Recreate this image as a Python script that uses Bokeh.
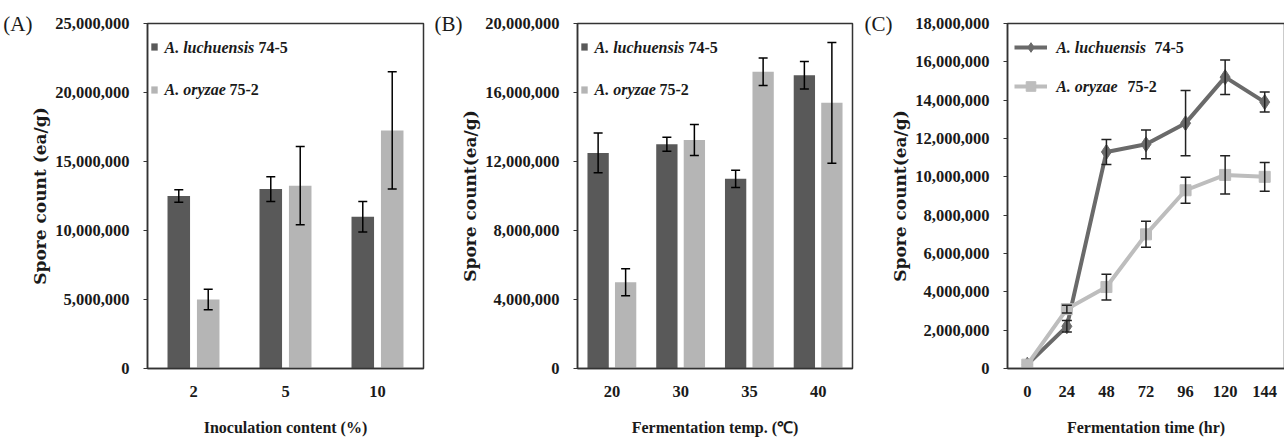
from bokeh.plotting import figure
from bokeh.models import (ColumnDataSource, FactorRange, Range1d, Whisker, TeeHead,
                          NumeralTickFormatter, FixedTicker, Label, Legend, LegendItem,
                          LinearAxis)
from bokeh.transform import dodge
from bokeh.layouts import row
from bokeh.embed import file_html
from bokeh.resources import INLINE

NAN = float("nan")

# ---------------- data ----------------
series_names = ["A. luchuensis", "A. oryzae"]
series_codes = ["74-5", "75-2"]

inoc_levels = ["2", "5", "10"]
inoc_luch = [12.5e6, 13.0e6, 11.0e6]
inoc_luch_err = [0.45e6, 0.9e6, 1.1e6]
inoc_ory = [5.0e6, 13.25e6, 17.25e6]
inoc_ory_err = [0.75e6, 2.83e6, 4.25e6]

temp_levels = ["20", "30", "35", "40"]
temp_luch = [12.5e6, 13.0e6, 11.0e6, 17.0e6]
temp_luch_err = [1.15e6, 0.4e6, 0.5e6, 0.8e6]
temp_ory = [5.0e6, 13.25e6, 17.2e6, 15.4e6]
temp_ory_err = [0.78e6, 0.9e6, 0.8e6, 3.5e6]

time_hr = ["0", "24", "48", "72", "96", "120", "144"]
time_luch = [0.2e6, 2.2e6, 11.3e6, 11.7e6, 12.8e6, 15.2e6, 13.9e6]
time_luch_err = [NAN, 0.3e6, 0.65e6, 0.75e6, 1.7e6, 0.9e6, 0.52e6]
time_ory = [0.2e6, 3.1e6, 4.25e6, 7.0e6, 9.3e6, 10.1e6, 10.0e6]
time_ory_err = [NAN, 0.2e6, 0.67e6, 0.68e6, 0.68e6, 1.0e6, 0.75e6]

# ---------------- style ----------------
DARK = "#595959"
LIGHT = "#b5b5b5"
DARKLINE = "#6a6a6a"
LIGHTLINE = "#bdbdbd"
TXT = "#1a1a1a"
SERIF = "Liberation Serif"
FRAME_H = 345


def make_fig(factors, ymax, ystep, xlabel, ylabel, left, fw, right, tag):
    p = figure(x_range=FactorRange(factors=factors, range_padding=0),
               y_range=Range1d(0, ymax),
               frame_width=fw, frame_height=FRAME_H,
               min_border_left=left, min_border_right=right,
               min_border_top=23, min_border_bottom=75,
               output_backend="svg", toolbar_location=None, tools="")
    p.xgrid.visible = False
    p.ygrid.visible = False
    p.outline_line_color = "#333333"
    p.outline_line_width = 1.5
    p.background_fill_color = "white"
    p.border_fill_color = "white"

    p.yaxis.ticker = FixedTicker(ticks=list(range(0, int(ymax) + 1, int(ystep))))
    p.yaxis.formatter = NumeralTickFormatter(format="0,0")
    p.yaxis.major_tick_in = 0
    p.yaxis.major_tick_out = 4
    p.yaxis.minor_tick_out = 0
    p.yaxis.minor_tick_in = 0
    p.yaxis.major_label_standoff = 14
    p.xaxis.major_tick_in = 0
    p.xaxis.major_tick_out = 0
    p.xaxis.major_label_standoff = 17
    for ax in (p.xaxis, p.yaxis):
        ax.axis_line_color = "#333333"
        ax.axis_line_width = 1.5
        ax.major_tick_line_color = "#333333"
        ax.major_label_text_font = SERIF
        ax.major_label_text_font_style = "bold"
        ax.major_label_text_font_size = "16.5px"
        ax.major_label_text_color = TXT
        ax.axis_label_text_font_style = "bold"
        ax.axis_label_text_color = TXT
    p.xaxis.axis_label = xlabel
    p.xaxis.axis_label_text_font = SERIF
    p.xaxis.axis_label_text_font_size = "16px"
    p.xaxis.axis_label_standoff = 19
    p.yaxis.axis_label = ylabel
    p.yaxis.axis_label_text_font = "DejaVu Serif"
    p.yaxis.axis_label_text_font_size = "17px"
    p.yaxis.axis_label_standoff = 2

    # panel tag "(A)" etc. drawn as the single tick label of an outer left axis
    p.extra_y_ranges = {"tag": Range1d(0, ymax)}
    tag_ax = LinearAxis(y_range_name="tag", ticker=FixedTicker(ticks=[int(ymax)]),
                        major_label_overrides={int(ymax): tag},
                        axis_line_color=None, major_tick_line_color=None,
                        minor_tick_line_color=None, major_tick_out=0, major_tick_in=0,
                        minor_tick_out=0, minor_tick_in=0,
                        major_label_standoff=-5, major_label_text_font=SERIF,
                        major_label_text_font_size="21px", major_label_text_color=TXT)
    p.add_layout(tag_ax, "left")
    return p


def legend_texts(p, fw, n, ymax, x_name, x_code1, x_code2, cy1, cy2):
    # pixel offsets (from frame left / canvas top) converted to data coordinates
    def fx(px):
        return px / fw * n

    def fy(cy):
        return (23 + FRAME_H - cy) / FRAME_H * ymax

    for (cy, name, code, xc) in ((cy1, series_names[0], series_codes[0], x_code1),
                                 (cy2, series_names[1], series_codes[1], x_code2)):
        p.add_layout(Label(x=fx(x_name), y=fy(cy), text=name,
                           text_font=SERIF, text_font_style="bold italic",
                           text_font_size="16px", text_color=TXT, text_baseline="middle"))
        p.add_layout(Label(x=fx(xc), y=fy(cy), text=code,
                           text_font=SERIF, text_font_style="bold",
                           text_font_size="16px", text_color=TXT, text_baseline="middle"))


def whisker(p, base, up, lo, src, color, head):
    p.add_layout(Whisker(base=base, upper=up, lower=lo, source=src, level="overlay",
                         line_color=color, line_width=1.5,
                         upper_head=TeeHead(size=head, line_color=color, line_width=1.5),
                         lower_head=TeeHead(size=head, line_color=color, line_width=1.5)))


def bar_panel(levels, luch, luch_err, ory, ory_err, ymax, ystep, xlabel, ylabel,
              left, fw, right, tag, off, bw):
    p = make_fig(levels, ymax, ystep, xlabel, ylabel, left, fw, right, tag)
    src = ColumnDataSource(dict(
        cat=levels, luch=luch, ory=ory,
        luch_up=[v + e for v, e in zip(luch, luch_err)],
        luch_lo=[v - e for v, e in zip(luch, luch_err)],
        ory_up=[v + e for v, e in zip(ory, ory_err)],
        ory_lo=[v - e for v, e in zip(ory, ory_err)],
    ))
    r1 = p.vbar(x=dodge("cat", -off, range=p.x_range), top="luch", width=bw,
                source=src, fill_color=DARK, line_color=None)
    r2 = p.vbar(x=dodge("cat", off, range=p.x_range), top="ory", width=bw,
                source=src, fill_color=LIGHT, line_color=None)
    for d, up, lo in ((-off, "luch_up", "luch_lo"), (off, "ory_up", "ory_lo")):
        whisker(p, dodge("cat", d, range=p.x_range), up, lo, src, "black", 9)
    leg = Legend(items=[LegendItem(label=" ", renderers=[r1]),
                        LegendItem(label=" ", renderers=[r2])],
                 location=(3, 274), orientation="vertical",
                 glyph_width=8, glyph_height=9, label_height=9, label_width=1,
                 label_standoff=0, label_text_font_size="2px", spacing=34,
                 padding=0, margin=0, border_line_alpha=0, background_fill_alpha=0)
    p.add_layout(leg)
    legend_texts(p, fw, len(levels), ymax, 17, 111, 82, 46.7, 89.3)
    return p


pA = bar_panel(inoc_levels, inoc_luch, inoc_luch_err, inoc_ory, inoc_ory_err,
               25_000_000, 5_000_000, "Inoculation content (%)", "Spore count (ea/g)",
               146, 276, 8, "(A)", 0.16, 0.245)
pB = bar_panel(temp_levels, temp_luch, temp_luch_err, temp_ory, temp_ory_err,
               20_000_000, 4_000_000, "Fermentation temp. (\u2103)", "Spore count(ea/g)",
               146, 275, 9, "(B)", 0.2, 0.31)

# ---------------- panel C ----------------
pC = make_fig(time_hr, 18_000_000, 2_000_000, "Fermentation time (hr)", "Spore count(ea/g)",
              143, 277, 4, "(C)")
srcC = ColumnDataSource(dict(
    t=time_hr, luch=time_luch, ory=time_ory,
    luch_up=[v + e for v, e in zip(time_luch, time_luch_err)],
    luch_lo=[v - e for v, e in zip(time_luch, time_luch_err)],
    ory_up=[v + e for v, e in zip(time_ory, time_ory_err)],
    ory_lo=[v - e for v, e in zip(time_ory, time_ory_err)],
))
l1 = pC.line("t", "luch", source=srcC, line_color=DARKLINE, line_width=4)
m1 = pC.scatter("t", "luch", source=srcC, marker="diamond", size=15,
                fill_color=DARKLINE, line_color=DARKLINE)
l2 = pC.line("t", "ory", source=srcC, line_color=LIGHTLINE, line_width=4)
m2 = pC.scatter("t", "ory", source=srcC, marker="square", size=11,
                fill_color=LIGHTLINE, line_color=LIGHTLINE)
for up, lo in (("luch_up", "luch_lo"), ("ory_up", "ory_lo")):
    whisker(pC, "t", up, lo, srcC, "#222222", 10)
legC = Legend(items=[LegendItem(label=" ", renderers=[l1, m1]),
                     LegendItem(label=" ", renderers=[l2, m2])],
              location=(7, 270), orientation="vertical",
              glyph_width=33, glyph_height=24, label_height=24, label_width=1,
              label_standoff=0, label_text_font_size="2px", spacing=15,
              padding=0, margin=0, border_line_alpha=0, background_fill_alpha=0)
pC.add_layout(legC)
legend_texts(pC, 277, len(time_hr), 18_000_000, 48.7, 147, 120, 46.7, 86)

layout = row(pA, pB, pC)
open("out.html", "w").write(file_html(layout, INLINE))
